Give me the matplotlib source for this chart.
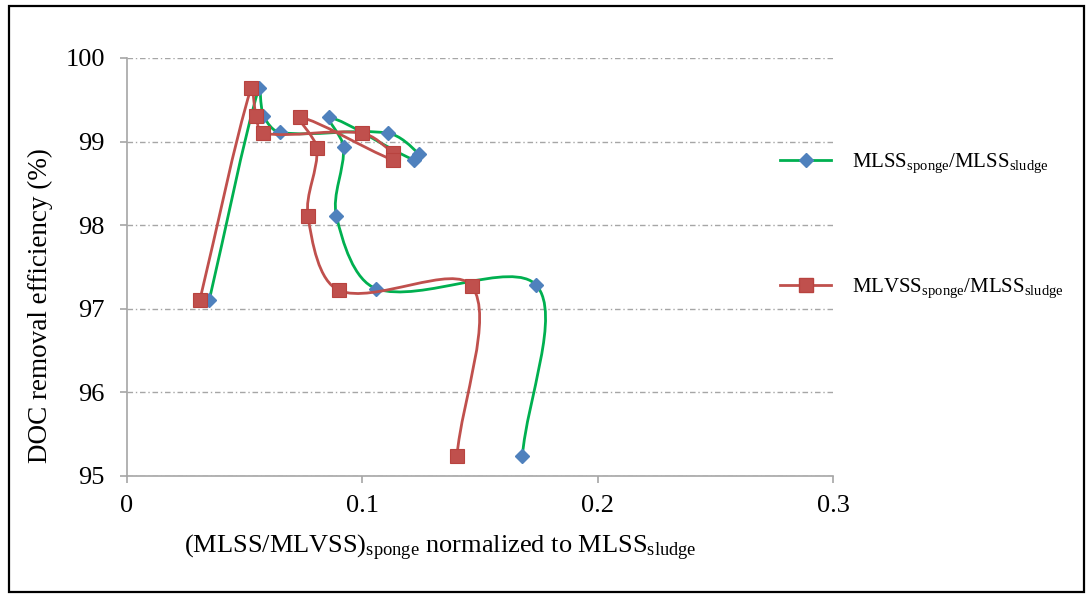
import numpy as np
import matplotlib
matplotlib.use("Agg")
import matplotlib.pyplot as plt
from matplotlib.path import Path
from matplotlib.patches import PathPatch, Rectangle
from matplotlib.lines import Line2D

plt.rcParams['font.family'] = ['Liberation Serif', 'DejaVu Serif']
plt.rcParams['mathtext.fontset'] = 'custom'
plt.rcParams['mathtext.rm'] = 'Liberation Serif'
plt.rcParams['mathtext.it'] = 'Liberation Serif:italic'

# ---- data ----
mlss_x = [0.035, 0.056, 0.058, 0.065, 0.111, 0.124, 0.122, 0.086, 0.092, 0.089, 0.106, 0.174, 0.168]
mlss_y = [97.11, 99.64, 99.31, 99.11, 99.10, 98.85, 98.78, 99.29, 98.94, 98.11, 97.24, 97.28, 95.24]

mlvss_x = [0.031, 0.0527, 0.0548, 0.0578, 0.0999, 0.113, 0.113, 0.0735, 0.0807, 0.0769, 0.0901, 0.1466, 0.1402]
mlvss_y = [97.11, 99.64, 99.31, 99.10, 99.10, 98.86, 98.78, 99.29, 98.92, 98.11, 97.22, 97.27, 95.24]

x_ticks = [0, 0.1, 0.2, 0.3]
x_tick_labels = ["0", "0.1", "0.2", "0.3"]
y_ticks = [95, 96, 97, 98, 99, 100]
y_tick_labels = ["95", "96", "97", "98", "99", "100"]

label_mlss = r"MLSS$_{\mathrm{sponge}}$/MLSS$_{\mathrm{sludge}}$"
label_mlvss = r"MLVSS$_{\mathrm{sponge}}$/MLSS$_{\mathrm{sludge}}$"
xlabel = r"(MLSS/MLVSS)$_{\mathrm{sponge}}$ normalized to MLSS$_{\mathrm{sludge}}$"
ylabel = "DOC removal efficiency (%)"

GREEN = "#00b050"
BLUE = "#4f81bd"
RED = "#c0504d"
GRID = "#a6a6a6"


def smooth_path(ax, xs, ys):
    """Excel-like smoothed line: cubic Bezier with tangents weighted by
    screen-space segment lengths (avoids overshoot on short segments)."""
    P = np.column_stack([xs, ys]).astype(float)
    S = ax.transData.transform(P)  # screen coords for distances
    n = len(P)
    verts = [P[0]]
    codes = [Path.MOVETO]
    for i in range(n - 1):
        i0 = max(i - 1, 0)
        i3 = min(i + 2, n - 1)
        p0, p1, p2, p3 = P[i0], P[i], P[i + 1], P[i3]
        s0, s1, s2, s3 = S[i0], S[i], S[i + 1], S[i3]
        d01 = np.hypot(*(s1 - s0))
        d12 = np.hypot(*(s2 - s1))
        d23 = np.hypot(*(s3 - s2))
        f1 = d12 / (d01 + d12) if (d01 + d12) > 0 else 0
        f2 = d12 / (d12 + d23) if (d12 + d23) > 0 else 0
        c1 = p1 + (p2 - p0) * f1 / 3.0
        c2 = p2 - (p3 - p1) * f2 / 3.0
        verts += [c1, c2, p2]
        codes += [Path.CURVE4] * 3
    return Path(np.array(verts), codes)


fig = plt.figure(figsize=(10.87, 5.94), dpi=100)
ax = fig.add_axes([127 / 1087, 1 - 476 / 594, (833 - 127) / 1087, (476 - 58) / 594])
ax.set_xlim(0, 0.3)
ax.set_ylim(95, 100)

# series 1
ax.add_patch(PathPatch(smooth_path(ax, mlss_x, mlss_y), fill=False, edgecolor=GREEN, lw=2.0, zorder=3))
ax.plot(mlss_x, mlss_y, linestyle='none', marker='D', markersize=7.5, markerfacecolor=BLUE,
        markeredgecolor=BLUE, zorder=3.1)
# series 2
ax.add_patch(PathPatch(smooth_path(ax, mlvss_x, mlvss_y), fill=False, edgecolor=RED, lw=2.0, zorder=3.2))
ax.plot(mlvss_x, mlvss_y, linestyle='none', marker='s', markersize=10.5, markerfacecolor=RED,
        markeredgecolor="#b8433f", markeredgewidth=0.8, zorder=3.3)

ax.set_xticks(x_ticks)
ax.set_xticklabels(x_tick_labels)
ax.set_yticks(y_ticks)
ax.set_yticklabels(y_tick_labels)

ax.yaxis.grid(True, color=GRID, linestyle=(0, (4, 2, 1, 2)), linewidth=1.0)
ax.set_axisbelow(True)
for s in ['top', 'right']:
    ax.spines[s].set_visible(False)
for s in ['left', 'bottom']:
    ax.spines[s].set_color(GRID)
    ax.spines[s].set_linewidth(1.2)

ax.tick_params(axis='both', direction='out', length=5, width=1.2, color=GRID, labelsize=19)
ax.tick_params(axis='y', pad=11)
ax.tick_params(axis='x', pad=9)

fig.text(40 / 1087, 1 - 306 / 594, ylabel, rotation=90, ha='center', va='center', fontsize=19.5)
fig.text(440 / 1087, 1 - 548 / 594, xlabel, ha='center', va='center', fontsize=19)

handles = [
    Line2D([], [], color=GREEN, lw=2.0, marker='D', markersize=7.5, markerfacecolor=BLUE, markeredgecolor=BLUE),
    Line2D([], [], color=RED, lw=2.0, marker='s', markersize=10.5, markerfacecolor=RED, markeredgecolor="#b8433f"),
]
fig.legend(handles, [label_mlss, label_mlvss], loc='center left',
           bbox_to_anchor=(780 / 1087, 1 - 226 / 594), bbox_transform=fig.transFigure,
           frameon=False, fontsize=15, handlelength=2.45, handletextpad=1.0,
           labelspacing=4.85, borderpad=0, borderaxespad=0)

fig.add_artist(Rectangle((9 / 1087, 1 - 592 / 594), (1084 - 9) / 1087, (592 - 6) / 594,
                         transform=fig.transFigure, fill=False, edgecolor='black', lw=1.6))

fig.savefig("out.png", dpi=100)
